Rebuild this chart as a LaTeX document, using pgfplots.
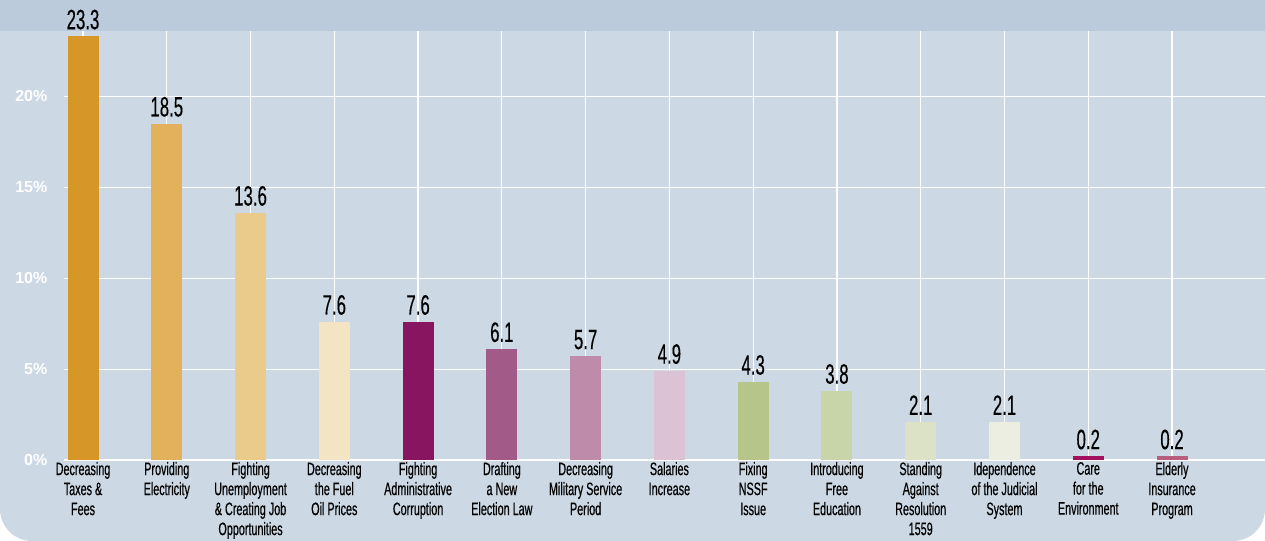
\documentclass[border=0pt]{standalone}
\usepackage{pgfplots}
\pgfplotsset{compat=1.18}
\usepackage{fontspec}
\setmainfont{Liberation Sans}
\newfontfamily\condfont[FakeStretch=0.6,FakeBold=0.5]{Liberation Sans}
\newfontfamily\valfont[FakeStretch=0.6,FakeBold=0.25]{Liberation Sans}
\definecolor{bgc}{HTML}{CCD9E5}
\definecolor{bandc}{HTML}{BBCBDB}
\definecolor{c1}{HTML}{D69628}
\definecolor{c2}{HTML}{E3B05B}
\definecolor{c3}{HTML}{EACB8B}
\definecolor{c4}{HTML}{F3E5C3}
\definecolor{c5}{HTML}{88155F}
\definecolor{c6}{HTML}{A25B88}
\definecolor{c7}{HTML}{BE8CAA}
\definecolor{c8}{HTML}{DBC2D5}
\definecolor{c9}{HTML}{B6C68B}
\definecolor{c10}{HTML}{C8D5A8}
\definecolor{c11}{HTML}{DCE2C5}
\definecolor{c12}{HTML}{ECEEE1}
\definecolor{c13}{HTML}{A3105F}
\definecolor{c14}{HTML}{BA5E80}
\pgfplotsset{mybar/.style={fill=#1, draw=none, bar shift=0pt}}
\begin{document}
\begin{tikzpicture}[x=0.75pt,y=0.75pt]
\fill[bgc, rounded corners=24pt] (0,0) rectangle (1265,541);
\fill[bgc] (0,100) rectangle (1265,541);
\fill[bandc] (0,510) rectangle (1265,541);
\begin{axis}[
  at={(48pt,60.75pt)}, anchor=south west,
  scale only axis, width=900.75pt, height=321.75pt,
  xmin=-0.227, xmax=14.11, ymin=0, ymax=23.6,
  clip=false,
  axis line style={draw=none},
  major tick length=0pt,
  ybar, bar width=0.37,
  xtick={0,...,13},
  xticklabels={{Decreasing\\Taxes \&\\Fees},{Providing\\Electricity},{Fighting\\Unemployment\\\& Creating Job\\Opportunities},{Decreasing\\the Fuel\\Oil Prices},{Fighting\\Administrative\\Corruption},{Drafting\\a New\\Election Law},{Decreasing\\Military Service\\Period},{Salaries\\Increase},{Fixing\\NSSF\\Issue},{Introducing\\Free\\Education},{Standing\\Against\\Resolution\\1559},{Idependence\\of the Judicial\\System},{Care\\for the\\Environment},{Elderly\\Insurance\\Program}},
  xticklabel style={font=\condfont\fontsize{13.5}{15}\selectfont, align=center, anchor=north, yshift=2pt},
  ytick={0,5,10,15,20},
  yticklabels={0\%,5\%,10\%,15\%,20\%},
  yticklabel style={font=\bfseries\fontsize{12}{13}\selectfont, text=white, xshift=-9pt},
  grid=major,
  major grid style={white, line width=0.9pt},
  nodes near coords,
  nodes near coords style={font=\valfont\fontsize{21}{21}\selectfont, text=black, anchor=south, inner sep=5pt},
  point meta=explicit symbolic,
]
\addplot[mybar=c1] coordinates {(0,23.3) [23.3]};
\addplot[mybar=c2] coordinates {(1,18.5) [18.5]};
\addplot[mybar=c3] coordinates {(2,13.6) [13.6]};
\addplot[mybar=c4] coordinates {(3,7.6) [7.6]};
\addplot[mybar=c5] coordinates {(4,7.6) [7.6]};
\addplot[mybar=c6] coordinates {(5,6.1) [6.1]};
\addplot[mybar=c7] coordinates {(6,5.7) [5.7]};
\addplot[mybar=c8] coordinates {(7,4.9) [4.9]};
\addplot[mybar=c9] coordinates {(8,4.3) [4.3]};
\addplot[mybar=c10] coordinates {(9,3.8) [3.8]};
\addplot[mybar=c11] coordinates {(10,2.1) [2.1]};
\addplot[mybar=c12] coordinates {(11,2.1) [2.1]};
\addplot[mybar=c13] coordinates {(12,0.2) [0.2]};
\addplot[mybar=c14] coordinates {(13,0.2) [0.2]};
\end{axis}
\pgfresetboundingbox
\path[use as bounding box] (0,0) rectangle (1265,541);
\end{tikzpicture}
\end{document}
